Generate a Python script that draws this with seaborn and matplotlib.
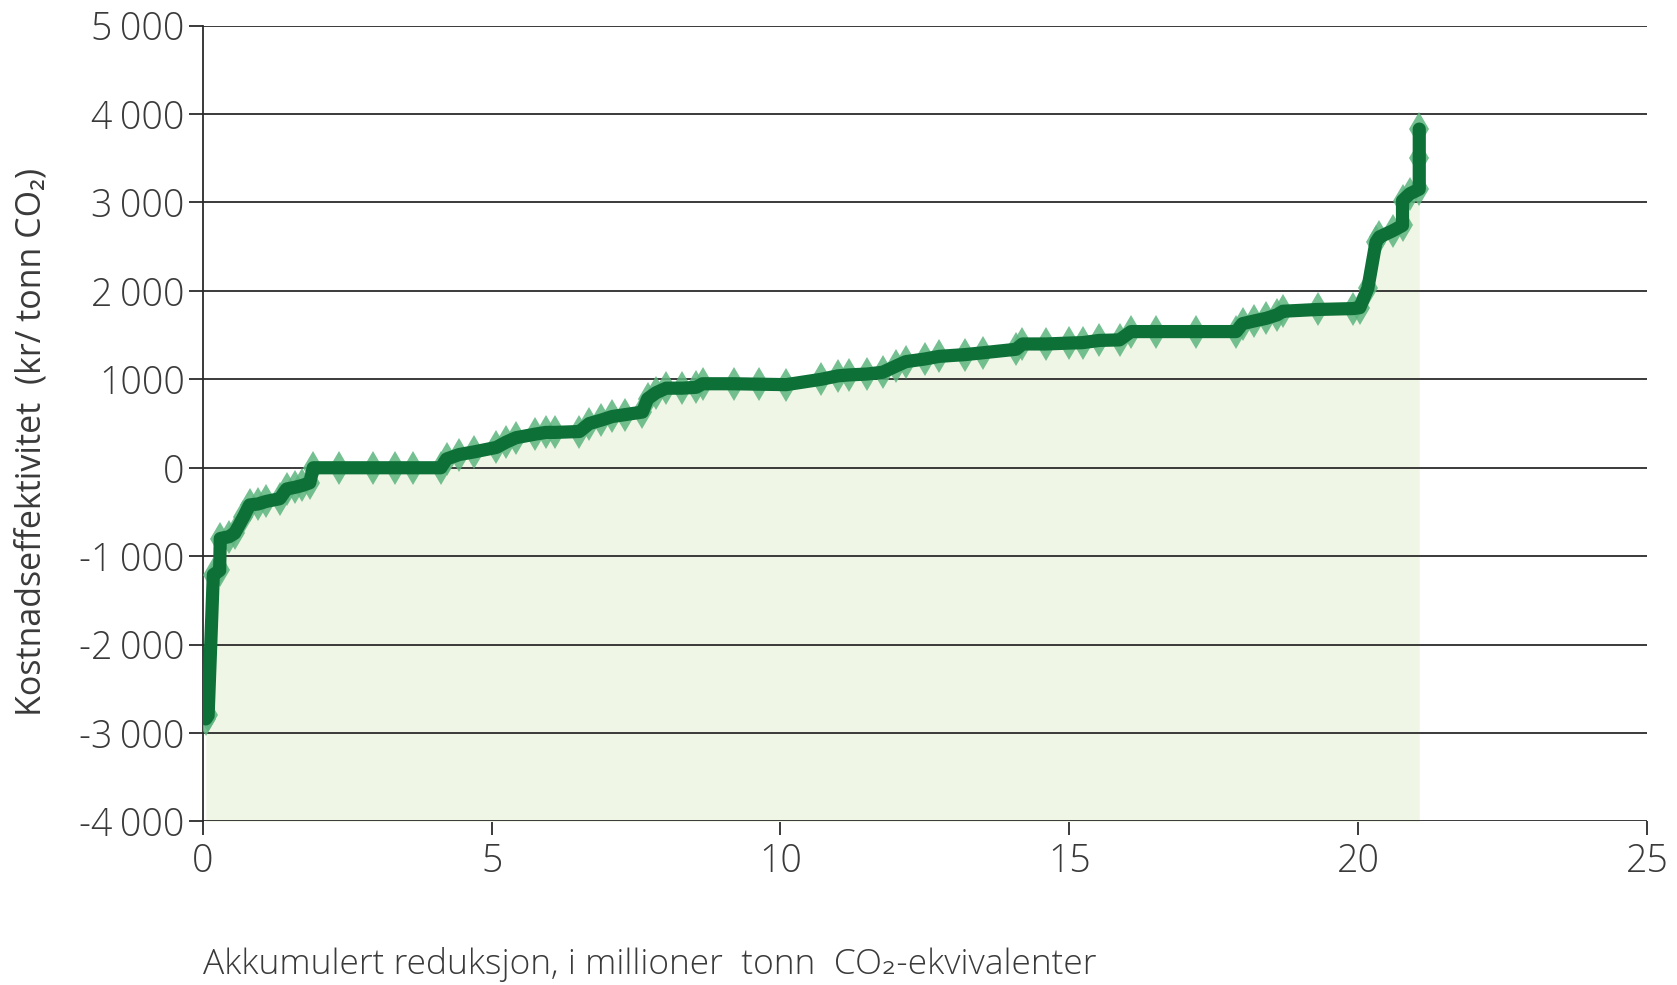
import numpy as np
import pandas as pd
import matplotlib
matplotlib.use("Agg")
import matplotlib.pyplot as plt
import seaborn as sns

# Cumulative reduction (million tonnes CO2-eq) and cost efficiency (kr / tonn CO2)
akkumulert = [0.05, 0.09, 0.18, 0.25, 0.29, 0.30, 0.45, 0.55, 0.70, 0.81,
              0.95, 1.10, 1.33, 1.45, 1.60, 1.72, 1.85, 1.91, 2.36, 2.94,
              3.32, 3.63, 4.12, 4.22, 4.44, 4.70, 5.08, 5.25, 5.42, 5.75,
              5.94, 6.10, 6.52, 6.69, 6.90, 7.09, 7.30, 7.61, 7.70, 7.85,
              8.02, 8.30, 8.54, 8.65, 9.20, 9.63, 10.10, 10.70, 11.00, 11.19,
              11.50, 11.77, 12.00, 12.17, 12.50, 12.75, 13.20, 13.50, 14.08, 14.19,
              14.60, 15.00, 15.23, 15.52, 15.87, 16.07, 16.50, 17.20, 17.89, 18.00,
              18.20, 18.41, 18.60, 18.70, 19.30, 19.91, 20.03, 20.17, 20.31, 20.37,
              20.60, 20.77, 20.77, 20.90, 21.06, 21.06, 21.06]
kostnad = [-2840, -2800, -1210, -1180, -1160, -800, -780, -740, -560, -420,
           -410, -380, -350, -240, -220, -200, -170, 0, 0, 0,
           0, 0, 0, 100, 150, 180, 230, 290, 340, 380,
           400, 400, 410, 500, 540, 580, 600, 630, 780, 850,
           900, 900, 910, 950, 950, 945, 940, 1000, 1040, 1050,
           1060, 1080, 1150, 1200, 1230, 1260, 1280, 1300, 1340, 1400,
           1400, 1410, 1415, 1440, 1446, 1540, 1540, 1540, 1540, 1630,
           1660, 1690, 1730, 1770, 1790, 1800, 1810, 2030, 2550, 2610,
           2680, 2740, 3020, 3100, 3150, 3500, 3830]

y_ticks = [-4000, -3000, -2000, -1000, 0, 1000, 2000, 3000, 4000, 5000]
y_tick_labels = ["-4\u2009000", "-3\u2009000", "-2\u2009000", "-1\u2009000", "0",
                 "1000", "2\u2009000", "3\u2009000", "4\u2009000", "5\u2009000"]
x_ticks = [0, 5, 10, 15, 20, 25]

df = pd.DataFrame({"x": akkumulert, "y": kostnad})

sns.set_style("white")
plt.rcParams["font.family"] = ["Open Sans", "DejaVu Sans"]
plt.rcParams["font.weight"] = "light"
text_col = "#3a3a3a"

fig = plt.figure(figsize=(16.77, 9.85), dpi=100)
ax = fig.add_axes([0.121, 0.166, 0.861, 0.808])

# light fill under the curve
ax.fill_between(df["x"], df["y"], -4000, color="#f0f6e6", zorder=1, linewidth=0)

# gridlines
for yv in y_ticks:
    ax.axhline(yv, color="#2b2b2b", lw=1.3, zorder=2)

# diamond markers behind the thick line
sns.lineplot(data=df, x="x", y="y", estimator=None, sort=False, ax=ax,
             marker="d", markersize=17, markeredgewidth=0,
             color="#5cb57e", linestyle="none", alpha=0.85, zorder=3)
sns.lineplot(data=df, x="x", y="y", estimator=None, sort=False, ax=ax,
             color="#0d7137", linewidth=9.5, zorder=4)

ax.set_xlim(0, 25)
ax.set_ylim(-4000, 5000)
ax.set_yticks(y_ticks)
ax.set_yticklabels(y_tick_labels)
ax.set_xticks(x_ticks)
ax.set_xticklabels([str(v) for v in x_ticks])

for s in ["top", "right", "bottom"]:
    ax.spines[s].set_visible(False)
ax.spines["left"].set_color("#2b2b2b")
ax.spines["left"].set_linewidth(1.3)

ax.tick_params(axis="both", which="major", direction="out", length=10, width=1.3,
               color="#2b2b2b", labelsize=27, labelcolor=text_col, pad=5,
               left=True, bottom=True)
ax.tick_params(axis="y", pad=3)
ax.set_xlabel("")
ax.set_ylabel("Kostnadseffektivitet  (kr/ tonn CO\u2082)", fontsize=24.5,
              color=text_col, labelpad=10)
ax.yaxis.set_label_coords(-0.107, 0.477)

fig.text(0.121, 0.003, "Akkumulert reduksjon, i millioner  tonn  CO\u2082-ekvivalenter",
         fontsize=25.5, color=text_col, ha="left", va="bottom")

fig.savefig("out.png", dpi=100, facecolor="white")
